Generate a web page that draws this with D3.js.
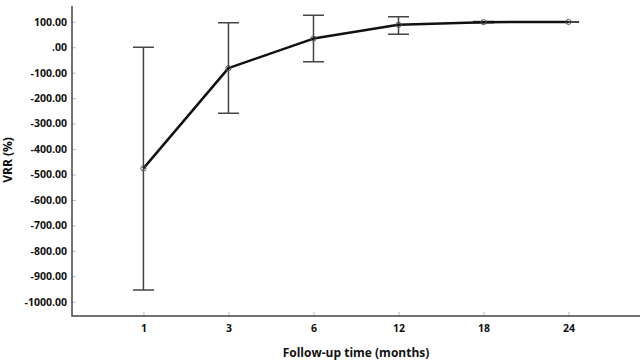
<!DOCTYPE html>
<html>
<head>
<meta charset="utf-8">
<script src="https://cdn.jsdelivr.net/npm/d3@7"></script>
<style>
  html, body { margin: 0; padding: 0; background: #fff; }
  text { font-family: "Open Sans", sans-serif; font-weight: bold; fill: #111; }
</style>
</head>
<body>
<div id="chart"></div>
<script>
// VRR (%) by follow-up time, mean with error bars

const months  = ['1', '3', '6', '12', '18', '24'];
const vrrMean = [-476, -82, 34, 88, 98.5, 99.5];
const vrrLow  = [-954, -259, -57, 51, 96, 98.5];
const vrrHigh = [0, 96, 126, 120, 101, 100.5];
const yTicks  = [100, 0, -100, -200, -300, -400, -500, -600, -700, -800, -900, -1000];

const width = 643;
const height = 362;

const svg = d3.select('#chart').append('svg')
  .attr('width', width)
  .attr('height', height)
  .attr('viewBox', [0, 0, width, height]);

const x = d3.scalePoint()
  .domain(months)
  .range([72, 640])
  .padding(0.84);

const y = d3.scaleLinear()
  .domain([-1056, 162])
  .range([316, 6]);

const data = months.map((m, i) => ({ m, mean: vrrMean[i], lo: vrrLow[i], hi: vrrHigh[i] }));

// ---- axes ----------------------------------------------------------------

const fmt = d => d === 0 ? '.00' : d3.format('.2f')(d).replace('−', '-');

const yAxis = svg.append('g')
  .attr('transform', 'translate(72,0)')
  .call(d3.axisLeft(y).tickValues(yTicks).tickFormat(fmt).tickSize(-4).tickSizeOuter(0).tickPadding(5));
yAxis.select('.domain').remove();
yAxis.selectAll('.tick line').attr('stroke', '#bbb');
yAxis.selectAll('.tick text').attr('font-size', 10.5);

const xAxis = svg.append('g')
  .attr('transform', 'translate(0,316)')
  .call(d3.axisBottom(x).tickSize(-4).tickSizeOuter(0).tickPadding(9));
xAxis.select('.domain').remove();
xAxis.selectAll('.tick line').attr('stroke', '#bbb');
xAxis.selectAll('.tick text').attr('font-size', 10.5);

// axis lines
svg.append('path')
  .attr('d', `M72,${y.range()[1]}V316H640`)
  .attr('fill', 'none')
  .attr('stroke', '#444')
  .attr('stroke-width', 1.5);

svg.append('text')
  .attr('x', 356)
  .attr('y', 357)
  .attr('text-anchor', 'middle')
  .attr('font-size', 12)
  .text('Follow-up time (months)');

svg.append('text')
  .attr('transform', 'translate(12,160) rotate(-90)')
  .attr('text-anchor', 'middle')
  .attr('font-size', 12)
  .text('VRR (%)');

// ---- error bars ----------------------------------------------------------

const bars = svg.append('g')
  .attr('stroke', '#444')
  .attr('stroke-width', 1.5)
  .attr('fill', 'none');

bars.selectAll('path')
  .data(data)
  .join('path')
  .attr('d', d => {
    const cx = x(d.m), hw = 10.5;
    return `M${cx},${y(d.hi)}V${y(d.lo)}` +
      `M${cx - hw},${y(d.hi)}H${cx + hw}` +
      `M${cx - hw},${y(d.lo)}H${cx + hw}`;
  });

// ---- mean line -----------------------------------------------------------

svg.append('path')
  .datum(data)
  .attr('d', d3.line().x(d => x(d.m)).y(d => y(d.mean)))
  .attr('fill', 'none')
  .attr('stroke', '#111')
  .attr('stroke-width', 2.5)
  .attr('stroke-linejoin', 'round');

svg.append('g')
  .selectAll('circle')
  .data(data)
  .join('circle')
  .attr('cx', d => x(d.m))
  .attr('cy', d => y(d.mean))
  .attr('r', 2.6)
  .attr('fill', 'none')
  .attr('stroke', '#555')
  .attr('stroke-width', 1);
</script>
</body>
</html>
